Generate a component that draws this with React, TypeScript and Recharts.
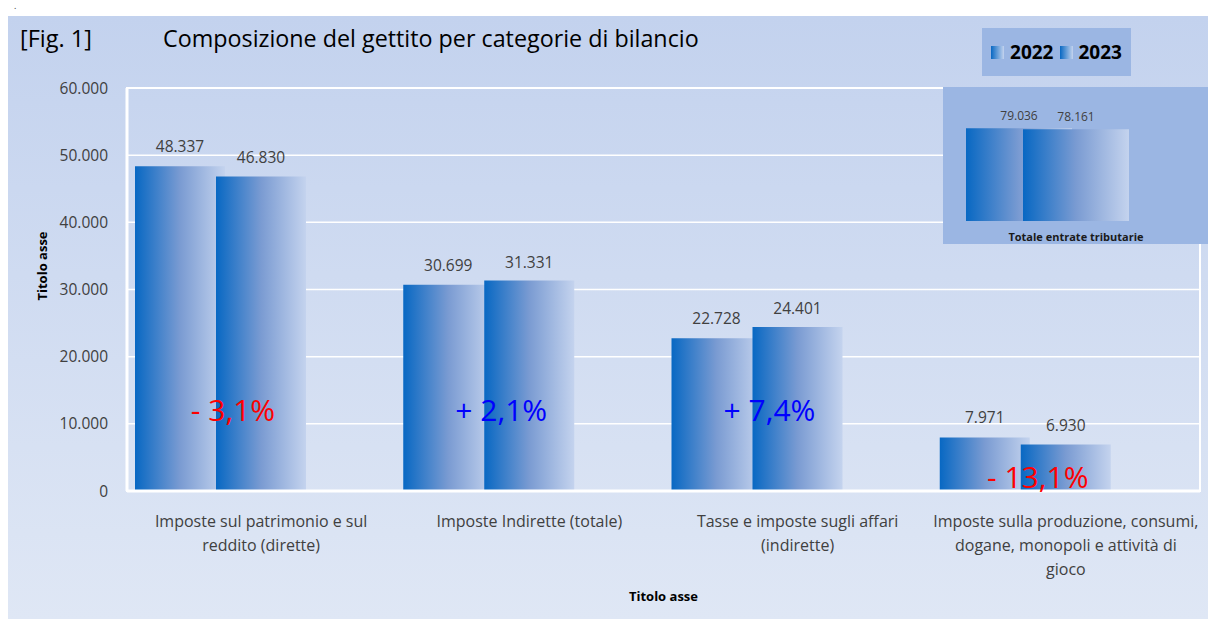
import { Bar, BarChart, CartesianGrid, LabelList, ReferenceArea, XAxis, YAxis } from "recharts";

const categorie = [
  "Imposte sul patrimonio e sul\nreddito (dirette)",
  "Imposte Indirette (totale)",
  "Tasse e imposte sugli affari\n(indirette)",
  "Imposte sulla produzione, consumi,\ndogane, monopoli e attività di\ngioco"
];
const valori2022 = [48337, 30699, 22728, 7971];
const valori2023 = [46830, 31331, 24401, 6930];
const variazioni = [-3.1, 2.1, 7.4, -13.1];
const yTicks = [0, 10000, 20000, 30000, 40000, 50000, 60000];

const totaleCategoria = ["Totale entrate tributarie"];
const totale2022 = [79036];
const totale2023 = [78161];
const totaleVariazione = [-1.1];

const anni = ["2022", "2023"];

const data = categorie.map((c, i) => ({
  categoria: c,
  v2022: valori2022[i],
  v2023: valori2023[i],
  variazione: variazioni[i]
}));

const totale = totaleCategoria.map((c, i) => ({
  categoria: c,
  v2022: totale2022[i],
  v2023: totale2023[i],
  variazione: totaleVariazione[i]
}));

const font = '"Open Sans", "Noto Sans", sans-serif';
const boxBlue = "#9bb6e3";

const fmt = (v: number) => String(v).replace(/\B(?=(\d{3})+(?!\d))/g, ".");
const fmtPct = (v: number) => (v < 0 ? "- " : "+ ") + Math.abs(v).toFixed(1).replace(".", ",") + "%";

function Gradient({ id }: { id: string }) {
  return (
    <defs>
      <linearGradient id={id} x1="0" y1="0" x2="1" y2="0">
        <stop offset="0%" stopColor="#0868c3" />
        <stop offset="50%" stopColor="#7a9bd2" />
        <stop offset="100%" stopColor="#c4d3ee" />
      </linearGradient>
    </defs>
  );
}

const CategoryTick = (props: any) => {
  const { x, y, payload } = props;
  const lines = String(payload.value).split("\n");
  return (
    <text x={x} y={y} textAnchor="middle" fill="#404040" fontSize={16} fontFamily={font}>
      {lines.map((l, i) => (
        <tspan key={i} x={x} dy={i === 0 ? 28 : 24}>
          {l}
        </tspan>
      ))}
    </text>
  );
};

// percentuali di variazione, sovrapposte alle barre 2023
const PctLabel = (props: any) => {
  const { x, y, height, index } = props;
  const v = variazioni[index];
  const bottom = y + height;
  const baseline = height > 80 ? bottom - 70 : bottom - 3;
  return (
    <text x={x + 17} y={baseline} textAnchor="middle" fontSize={30} fontFamily={font} fill={v < 0 ? "#ff0000" : "#0000ff"}>
      {fmtPct(v)}
    </text>
  );
};

function Inset() {
  return (
    <div style={{ position: "absolute", left: 935, top: 71, right: 0, height: 157, background: boxBlue }}>
      <BarChart
        width={265}
        height={157}
        data={totale}
        margin={{ top: 40, right: 21, bottom: 0, left: 22 }}
        barSize={106}
        barGap={-49}
        barCategoryGap={0}
        style={{ overflow: "visible" }}
      >
        <Gradient id="gradInset" />
        <XAxis
          dataKey="categoria"
          height={23}
          tickLine={false}
          axisLine={false}
          tickMargin={6}
          tick={{ fill: "#1a1a1a", fontSize: 11, fontWeight: 700, fontFamily: font }}
        />
        <YAxis hide domain={[0, 80000]} allowDataOverflow />
        <Bar dataKey="v2022" fill="url(#gradInset)" isAnimationActive={false}>
          <LabelList dataKey="v2022" position="top" offset={8} formatter={(v: any) => fmt(v)} fill="#404040" fontSize={12} fontFamily={font} />
        </Bar>
        <Bar dataKey="v2023" fill="url(#gradInset)" isAnimationActive={false}>
          <LabelList dataKey="v2023" position="top" offset={8} formatter={(v: any) => fmt(v)} fill="#404040" fontSize={12} fontFamily={font} />
        </Bar>
        <Bar dataKey="variazione" fill="transparent" isAnimationActive={false} />
      </BarChart>
    </div>
  );
}

function Legenda() {
  return (
    <div
      style={{
        position: "absolute",
        left: 974,
        top: 12,
        width: 149,
        height: 48,
        background: boxBlue,
        display: "flex",
        alignItems: "center",
        justifyContent: "center",
        gap: 6,
        fontFamily: font,
        fontWeight: 700,
        fontSize: 19,
        color: "#000"
      }}
    >
      {anni.map(a => (
        <div key={a} style={{ display: "flex", alignItems: "center", gap: 6 }}>
          <span style={{ width: 13, height: 13, background: "linear-gradient(to right, #0868c3, #c4d3ee)" }} />
          <span>{a}</span>
        </div>
      ))}
    </div>
  );
}

export default function App() {
  return (
    <div style={{ position: "fixed", left: 0, top: 0, right: 0, bottom: 0, overflow: "hidden", background: "#fff" }}>
      <div style={{ position: "absolute", left: 14, top: 1, fontSize: 9, lineHeight: "9px", fontFamily: font, color: "#333" }}>.</div>
      <div
        style={{
          position: "absolute",
          left: 8,
          top: 16,
          right: 0,
          bottom: 0,
          background: "linear-gradient(to bottom, #c3d2ee, #dfe7f5)",
          fontFamily: font
        }}
      >
        <svg style={{ position: "absolute", left: 0, top: 0 }} width={800} height={50}>
          <text x={12} y={31} fontSize={23.5} fontFamily={font} fill="#000">
            [Fig. 1]
          </text>
          <text x={155} y={31} fontSize={23.3} fontFamily={font} fill="#000">
            Composizione del gettito per categorie di bilancio
          </text>
        </svg>
        <BarChart width={1200} height={603} data={data} margin={{ top: 72, right: 8, bottom: 0, left: 0 }} barSize={90} barGap={-9} barCategoryGap={0}>
          <Gradient id="gradMain" />
          <CartesianGrid vertical={false} stroke="#ffffff" strokeWidth={1.5} />
          <ReferenceArea y1={0} y2={60000} fill="none" stroke="#ffffff" strokeWidth={2} ifOverflow="visible" />
          <XAxis
            dataKey="categoria"
            height={128}
            interval={0}
            tickLine={false}
            axisLine={{ stroke: "#ffffff", strokeWidth: 3 }}
            tick={<CategoryTick />}
            label={{ value: "Titolo asse", position: "insideBottom", offset: 18, fill: "#000", fontSize: 13, fontWeight: 700, fontFamily: font }}
          />
          <YAxis
            width={119}
            domain={[0, 60000]}
            ticks={yTicks}
            allowDataOverflow
            tickLine={false}
            tickMargin={13}
            axisLine={{ stroke: "#ffffff", strokeWidth: 3 }}
            tickFormatter={(v: number) => fmt(v)}
            tick={{ fill: "#404040", fontSize: 15.5, fontFamily: font }}
            label={{
              content: () => (
                <text
                  x={34}
                  y={250}
                  transform="rotate(-90 34 250)"
                  textAnchor="middle"
                  dominantBaseline="central"
                  fontSize={13}
                  fontWeight={700}
                  fontFamily={font}
                  fill="#000"
                >
                  Titolo asse
                </text>
              )
            }}
          />
          <Bar dataKey="v2022" fill="url(#gradMain)" isAnimationActive={false}>
            <LabelList dataKey="v2022" position="top" offset={14} formatter={(v: any) => fmt(v)} fill="#404040" fontSize={15.5} fontFamily={font} />
          </Bar>
          <Bar dataKey="v2023" fill="url(#gradMain)" isAnimationActive={false}>
            <LabelList dataKey="v2023" position="top" offset={13} formatter={(v: any) => fmt(v)} fill="#404040" fontSize={15.5} fontFamily={font} />
            <LabelList dataKey="v2023" content={<PctLabel />} />
          </Bar>
          <Bar dataKey="variazione" fill="transparent" isAnimationActive={false} />
        </BarChart>
        <Legenda />
        <Inset />
      </div>
    </div>
  );
}
